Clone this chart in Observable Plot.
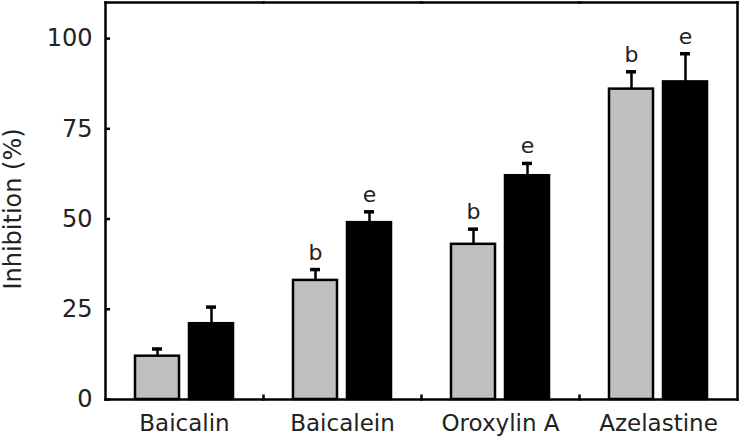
<!DOCTYPE html>
<html><head><meta charset="utf-8">
<script src="https://cdn.jsdelivr.net/npm/d3@7"></script>
<script src="https://cdn.jsdelivr.net/npm/@observablehq/plot@0.6"></script>
<style>body{margin:0;background:#fff;} #chart svg{display:block;}</style>
</head><body><div id="chart"></div>
<script>
const groups = ["Baicalin", "Baicalein", "Oroxylin A", "Azelastine"];
const series = ["Series 1", "Series 2"];
const values1 = [12, 33, 43, 86];
const errors1 = [2, 3, 4.2, 4.8];
const values2 = [21, 49, 62, 88];
const errors2 = [4.6, 3, 3.4, 7.8];
const labels1 = ["", "b", "b", "b"];
const labels2 = ["", "e", "e", "e"];
const yTicks = [0, 25, 50, 75, 100];
const yLabel = "Inhibition (%)";
const yMax = 110;

const rows = groups.flatMap((g, i) => [
  {group: g, series: series[0], value: values1[i], err: errors1[i], label: labels1[i]},
  {group: g, series: series[1], value: values2[i], err: errors2[i], label: labels2[i]}
]);

const vtick = {draw(ctx) { ctx.moveTo(0, 0); ctx.lineTo(0, -5); }};

const chart = Plot.plot({
  width: 740,
  height: 438,
  marginLeft: 105,
  marginRight: 3,
  marginTop: 2,
  marginBottom: 39,
  style: {fontFamily: "DejaVu Sans", color: "#222", background: "#fff"},
  fx: {domain: groups, padding: 0},
  x: {domain: series, paddingInner: 0.18, paddingOuter: 0.54, axis: null},
  y: {domain: [0, yMax]},
  color: {domain: series, range: ["#c0c0c0", "#000000"]},
  marks: [
    Plot.barY(rows, {fx: "group", x: "series", y: "value", fill: "series", stroke: "black", strokeWidth: 2.5}),
    Plot.ruleX(rows, {fx: "group", x: "series", y1: "value", y2: d => d.value + d.err, stroke: "black", strokeWidth: 2.5}),
    Plot.tickY(rows, {fx: "group", x: "series", y: d => d.value + d.err, stroke: "black", strokeWidth: 3.5, insetLeft: 17, insetRight: 17}),
    Plot.text(rows, {fx: "group", x: "series", y: d => d.value + d.err, text: "label", dy: -10, lineAnchor: "bottom", fontSize: 22, fill: "#222"}),
    Plot.dot(groups.slice(1), {fx: d => d, frameAnchor: "bottom-left", symbol: vtick, fill: "none", stroke: "black", strokeWidth: 2.5}),
    Plot.frame({anchor: "top", stroke: "black", strokeWidth: 2.5}),
    Plot.frame({anchor: "bottom", stroke: "black", strokeWidth: 2.5}),
    Plot.frame({anchor: "left", facetAnchor: "left", stroke: "black", strokeWidth: 2.5}),
    Plot.frame({anchor: "right", facetAnchor: "right", stroke: "black", strokeWidth: 2.5}),
    Plot.axisY({ticks: yTicks, tickSize: -5, tickPadding: 18, fontSize: 24, strokeWidth: 2.5, stroke: "black", label: null}),
    Plot.text([yLabel], {fx: () => groups[0], text: d => d, frameAnchor: "left", textAnchor: "middle", rotate: -90, dx: -92, dy: 8, fontSize: 24, fill: "#222"}),
    Plot.axisFx({anchor: "bottom", tickSize: 0, tickPadding: 15, fontSize: 23, label: null})
  ]
});
document.getElementById("chart").appendChild(chart);
</script>
</body></html>
